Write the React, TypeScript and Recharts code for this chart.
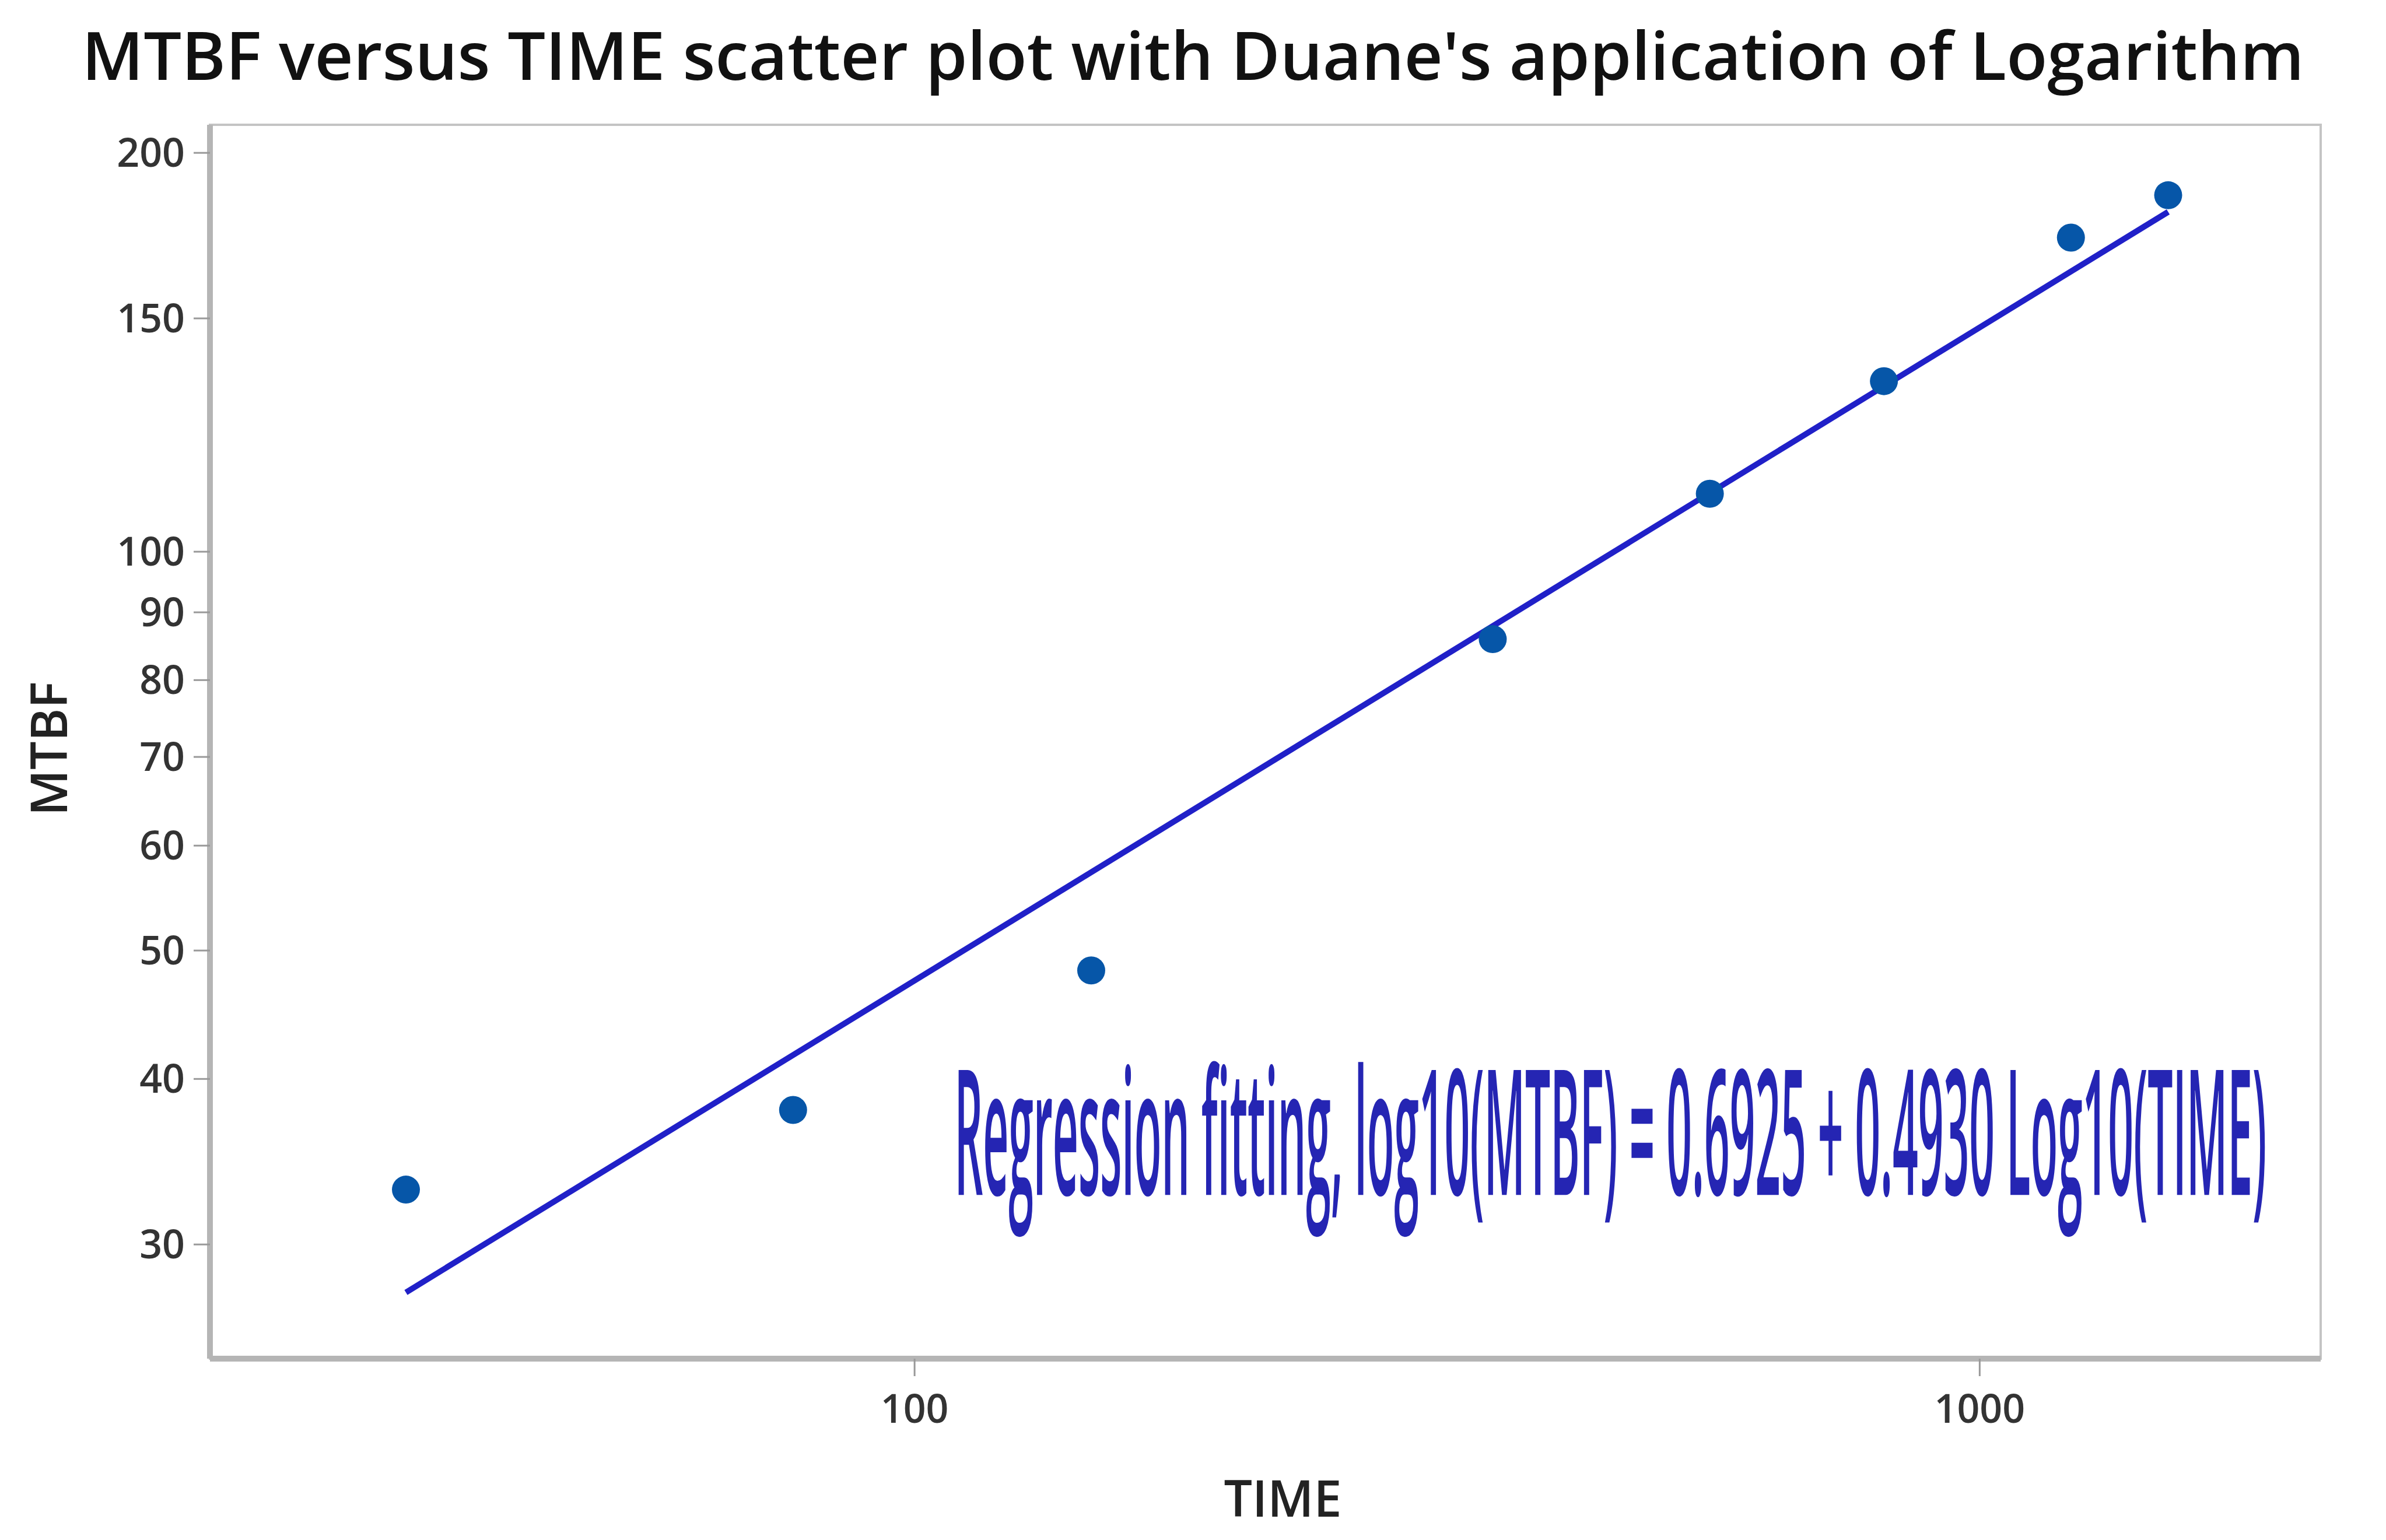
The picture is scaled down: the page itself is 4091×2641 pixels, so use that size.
import { ReferenceArea, ReferenceDot, Scatter, ScatterChart, XAxis, YAxis } from "recharts";

const timeValues = [33.3, 76.9, 146.5, 349, 558, 813, 1218, 1503];
const mtbfValues = [33.0, 37.9, 48.3, 85.9, 110.6, 134.5, 172.6, 185.8];

// end points of the fitted line
const fitTime = [33.3, 1503];
const fitMtbf = [27.6, 180.5];

const xTicks = [100, 1000];
const yTicks = [30, 40, 50, 60, 70, 80, 90, 100, 150, 200];

const xDomain = [21.8, 2090];
const yDomain = [24.6, 210];

const titleText = "MTBF versus TIME scatter plot with Duane's application of Logarithm";
const fitText = "Regression fitting, log10(MTBF) = 0.6925 + 0.4930 Log10(TIME)";
const fitTextAnchor = { time: 109, mtbf: 32.7 };

const points = timeValues.map((t, i) => ({ time: t, mtbf: mtbfValues[i] }));
const fitLine = fitTime.map((t, i) => ({ time: t, mtbf: fitMtbf[i] }));

const font = "'Open Sans', 'DejaVu Sans', sans-serif";
const tickStyle = { fill: "#333", fontSize: 68, fontFamily: font, fontWeight: 600 };

// squeeze the annotation to its width in the picture
const measureWidth = (text: string, css: string) => {
  const ctx = document.createElement("canvas").getContext("2d");
  if (!ctx) return 9000;
  ctx.font = css;
  return ctx.measureText(text).width;
};

const FitLabel = (props: any) => {
  const vb = props.viewBox || {};
  const natural = measureWidth(fitText, "600 300px 'Open Sans'");
  const sx = 2250 / natural;
  return (
    <text
      transform={`translate(${vb.x} ${vb.y}) scale(${sx} 1)`}
      fill="#2525b3"
      fontFamily={font}
      fontWeight={600}
      fontSize={300}
    >
      {fitText}
    </text>
  );
};

const Dot = (p: any) => <circle cx={p.cx} cy={p.cy} r={24} fill="#0656a8" />;

const App = () => {
  return (
    <div style={{ position: "absolute", left: 0, top: 0, width: 4091, height: 2641, background: "#fff" }}>
      <div
        style={{
          position: "absolute",
          left: 0,
          top: 18,
          width: 4091,
          textAlign: "center",
          fontFamily: font,
          fontWeight: 600,
          fontSize: 115,
          color: "#111",
          lineHeight: "150px",
        }}
      >
        {titleText}
      </div>
      <ScatterChart width={4091} height={2641} margin={{ top: 214, right: 112, bottom: 0, left: 0 }}>
        <XAxis
          type="number"
          dataKey="time"
          scale="log"
          domain={xDomain}
          allowDataOverflow
          ticks={xTicks}
          height={311}
          tickSize={30}
          tickMargin={32}
          tick={tickStyle}
          tickLine={{ stroke: "#999", strokeWidth: 3 }}
          axisLine={{ stroke: "#b5b5b5", strokeWidth: 10 }}
          label={{
            content: (p: any) => (
              <text
                x={p.viewBox.x + p.viewBox.width / 2 + 30}
                y={p.viewBox.y + 237}
                textAnchor="middle"
                dominantBaseline="central"
                fontFamily={font}
                fontWeight={600}
                fontSize={86}
                fill="#222"
              >
                TIME
              </text>
            ),
          }}
        />
        <YAxis
          type="number"
          dataKey="mtbf"
          scale="log"
          domain={yDomain}
          allowDataOverflow
          ticks={yTicks}
          width={360}
          tickSize={28}
          tickMargin={15}
          tick={tickStyle}
          tickLine={{ stroke: "#999", strokeWidth: 3 }}
          axisLine={{ stroke: "#b5b5b5", strokeWidth: 10 }}
          label={{
            content: (p: any) => {
              const cx = p.viewBox.x + 81;
              const cy = p.viewBox.y + p.viewBox.height / 2 + 12;
              return (
                <text
                  x={cx}
                  y={cy}
                  transform={`rotate(-90 ${cx} ${cy})`}
                  textAnchor="middle"
                  dominantBaseline="central"
                  fontFamily={font}
                  fontWeight={600}
                  fontSize={86}
                  fill="#222"
                >
                  MTBF
                </text>
              );
            },
          }}
        />
        <ReferenceArea
          x1={xDomain[0]}
          x2={xDomain[1]}
          y1={yDomain[0]}
          y2={yDomain[1]}
          fill="none"
          stroke="#c4c4c4"
          strokeWidth={4}
          ifOverflow="visible"
        />
        <Scatter
          data={fitLine}
          line={{ stroke: "#2020c8", strokeWidth: 10 }}
          shape={() => <g />}
          isAnimationActive={false}
        />
        <Scatter data={points} fill="#0656a8" shape={Dot} isAnimationActive={false} />
        <ReferenceDot
          x={fitTextAnchor.time}
          y={fitTextAnchor.mtbf}
          r={0}
          fill="none"
          stroke="none"
          ifOverflow="visible"
          label={{ content: (p: any) => <FitLabel {...p} /> }}
        />
      </ScatterChart>
    </div>
  );
};

export default App;
